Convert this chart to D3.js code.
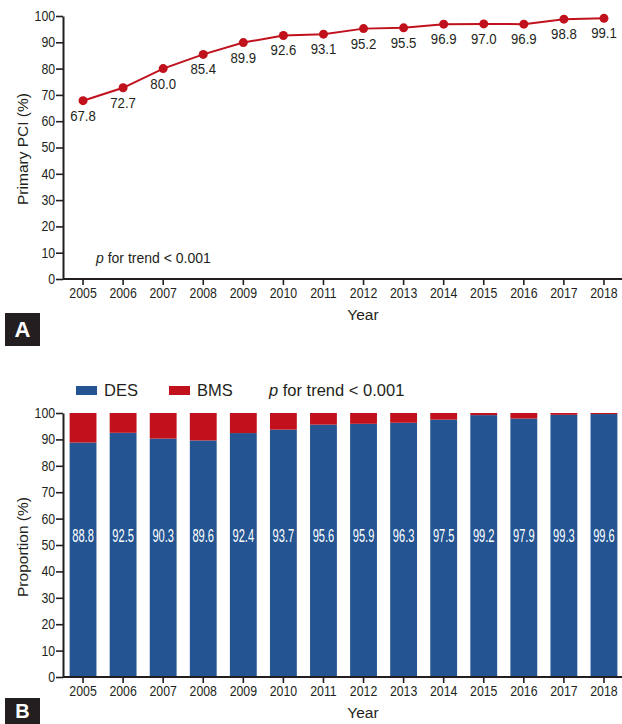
<!DOCTYPE html>
<html>
<head>
<meta charset="utf-8">
<script src="https://cdn.jsdelivr.net/npm/d3@7"></script>
<style>
  html, body { margin: 0; padding: 0; background: #fff; }
  svg { display: block; }
</style>
</head>
<body>
<svg id="chart" width="622" height="724"></svg>
<script>
// Data
const years = [2005, 2006, 2007, 2008, 2009, 2010, 2011, 2012, 2013, 2014, 2015, 2016, 2017, 2018];
const primaryPCI = [67.8, 72.7, 80.0, 85.4, 89.9, 92.6, 93.1, 95.2, 95.5, 96.9, 97.0, 96.9, 98.8, 99.1];
const desShare = [88.8, 92.5, 90.3, 89.6, 92.4, 93.7, 95.6, 95.9, 96.3, 97.5, 99.2, 97.9, 99.3, 99.6];
const yTicks = [0, 10, 20, 30, 40, 50, 60, 70, 80, 90, 100];

const ink = "#231f20";
const red = "#c0111d";
const blue = "#245592";
const sans = "'Liberation Sans', Arial, sans-serif";
const squeeze = "scale(0.88,1)";

const svg = d3.select("#chart");

const x = d3.scaleBand()
  .domain(years)
  .range([63, 624])
  .paddingInner(0.33)
  .paddingOuter(0.165);
const cx = d => x(d) + x.bandwidth() / 2;

function drawAxes(g, y, yLabel, labelCenter) {
  // x axis
  const xa = g.append("g")
    .attr("transform", `translate(0,${y(0)})`)
    .call(d3.axisBottom(x).tickSize(6).tickSizeOuter(0).tickPadding(3));
  xa.select(".domain").attr("d", `M63,0H622`);
  // y axis
  const ya = g.append("g")
    .attr("transform", "translate(63,0)")
    .call(d3.axisLeft(y).tickValues(yTicks).tickSize(7).tickSizeOuter(0).tickPadding(2));

  [xa, ya].forEach(a => {
    a.select(".domain").attr("stroke", ink).attr("stroke-width", 2);
    a.selectAll(".tick line").attr("stroke", ink).attr("stroke-width", 1.6);
    a.selectAll(".tick text")
      .attr("fill", ink)
      .attr("font-family", sans)
      .attr("font-size", 14)
      .attr("transform", squeeze);
  });

  g.append("text")
    .attr("transform", `translate(28,${labelCenter}) rotate(-90)`)
    .attr("text-anchor", "middle")
    .attr("fill", ink)
    .attr("font-family", sans)
    .attr("font-size", 15.5)
    .text(yLabel);

  g.append("text")
    .attr("x", 363)
    .attr("y", y(0) + 41)
    .attr("text-anchor", "middle")
    .attr("fill", ink)
    .attr("font-family", sans)
    .attr("font-size", 15.5)
    .text("Year");
}

function panelTag(label, top, h, size) {
  svg.append("rect")
    .attr("x", 5).attr("y", top)
    .attr("width", 35).attr("height", h)
    .attr("fill", ink);
  svg.append("text")
    .attr("x", 22.5).attr("y", top + h / 2)
    .attr("dy", "0.36em")
    .attr("text-anchor", "middle")
    .attr("fill", "#fff")
    .attr("font-family", sans)
    .attr("font-weight", "bold")
    .attr("font-size", size)
    .text(label);
}

// Panel A: line chart
const gA = svg.append("g");
const yA = d3.scaleLinear().domain([0, 100]).range([279, 16]);
drawAxes(gA, yA, "Primary PCI (%)", 149);

const pts = years.map((yr, i) => ({ yr, v: primaryPCI[i] }));

gA.append("path")
  .datum(pts)
  .attr("fill", "none")
  .attr("stroke", red)
  .attr("stroke-width", 2)
  .attr("d", d3.line().x(d => cx(d.yr)).y(d => yA(d.v)));

gA.selectAll("circle.pt")
  .data(pts)
  .join("circle")
  .attr("class", "pt")
  .attr("cx", d => cx(d.yr))
  .attr("cy", d => yA(d.v))
  .attr("r", 4.5)
  .attr("fill", red);

gA.selectAll("text.val")
  .data(pts)
  .join("text")
  .attr("class", "val")
  .attr("transform", d => `translate(${cx(d.yr)},${yA(d.v) + 20}) ${squeeze}`)
  .attr("text-anchor", "middle")
  .attr("fill", ink)
  .attr("font-family", sans)
  .attr("font-size", 15)
  .text(d => d.v.toFixed(1));

const pA = gA.append("text")
  .attr("x", 96)
  .attr("y", 263)
  .attr("fill", ink)
  .attr("font-family", sans)
  .attr("font-size", 14);
pA.append("tspan").attr("font-style", "italic").text("p");
pA.append("tspan").text(" for trend < 0.001");

panelTag("A", 313, 33, 22);

// Panel B: stacked bars
const gB = svg.append("g");
const yB = d3.scaleLinear().domain([0, 100]).range([677, 413]);

const stackRows = years.map((yr, i) => ({ yr, DES: desShare[i], BMS: +(100 - desShare[i]).toFixed(1) }));
const series = d3.stack().keys(["DES", "BMS"])(stackRows);
const color = d3.scaleOrdinal().domain(["DES", "BMS"]).range([blue, red]);

gB.selectAll("g.series")
  .data(series)
  .join("g")
  .attr("class", "series")
  .attr("fill", d => color(d.key))
  .selectAll("rect")
  .data(d => d)
  .join("rect")
  .attr("x", d => x(d.data.yr))
  .attr("width", x.bandwidth())
  .attr("y", d => yB(d[1]))
  .attr("height", d => yB(d[0]) - yB(d[1]));

gB.selectAll("text.bar")
  .data(stackRows)
  .join("text")
  .attr("class", "bar")
  .attr("transform", d => `translate(${cx(d.yr)},${yB(50) - 3}) scale(0.6,1)`)
  .attr("text-anchor", "middle")
  .attr("fill", "#fff")
  .attr("font-family", sans)
  .attr("font-size", 18.5)
  .text(d => d.DES.toFixed(1));

drawAxes(gB, yB, "Proportion (%)", 547);

// Legend
const legend = gB.append("g");
const legendItems = [{ key: "DES", x: 76 }, { key: "BMS", x: 169 }];
legend.selectAll("rect")
  .data(legendItems)
  .join("rect")
  .attr("x", d => d.x)
  .attr("y", 386)
  .attr("width", 21)
  .attr("height", 9)
  .attr("fill", d => color(d.key));
legend.selectAll("text")
  .data(legendItems)
  .join("text")
  .attr("x", d => d.x + 28)
  .attr("y", 396)
  .attr("fill", ink)
  .attr("font-family", sans)
  .attr("font-size", 16.5)
  .text(d => d.key);

const pB = gB.append("text")
  .attr("x", 269)
  .attr("y", 396)
  .attr("fill", ink)
  .attr("font-family", sans)
  .attr("font-size", 16.5);
pB.append("tspan").attr("font-style", "italic").text("p");
pB.append("tspan").text(" for trend < 0.001");

panelTag("B", 698, 26, 20);
</script>
</body>
</html>
